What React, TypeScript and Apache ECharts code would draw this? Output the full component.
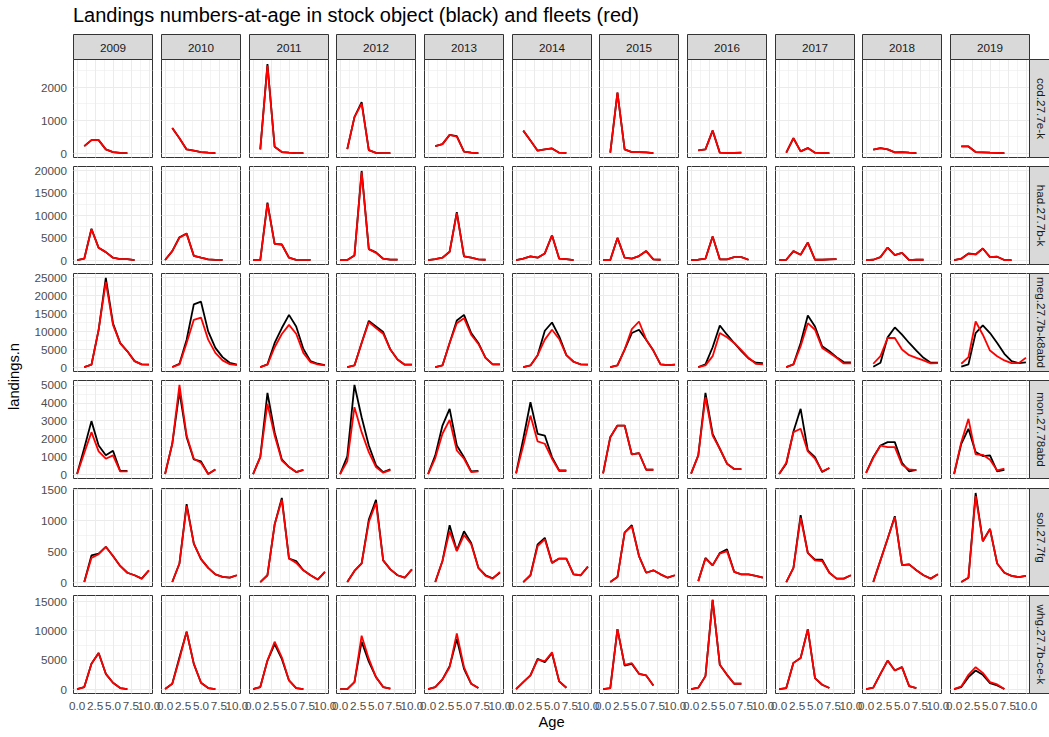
import React, { useEffect, useRef } from "react";
import * as echarts from "echarts";

// ---------------- data ----------------
const years = ["2009", "2010", "2011", "2012", "2013", "2014", "2015", "2016", "2017", "2018", "2019"];
const stockNames = ["cod.27.7e-k", "had.27.7b-k", "meg.27.7b-k8abd", "mon.27.78abd", "sol.27.7fg", "whg.27.7b-ce-k"];
const ages = [0, 1, 2, 3, 4, 5, 6, 7, 8, 9, 10];
const ageTicks = [0, 2.5, 5, 7.5, 10];

const codTicks = [0, 1000, 2000];
const hadTicks = [0, 5000, 10000, 15000, 20000];
const megTicks = [0, 5000, 10000, 15000, 20000, 25000];
const monTicks = [0, 1000, 2000, 3000, 4000, 5000];
const solTicks = [0, 500, 1000, 1500];
const whgTicks = [0, 5000, 10000, 15000];

// landings.n by age (index = age), one row per year 2009..2019
const codStock = [
  [null, 210, 390, 390, 110, 30, 5, 0],
  [null, 760, 450, 110, 70, 30, 10, 0],
  [null, 110, 2700, 190, 30, 10, 0, 0],
  [null, 120, 1090, 1540, 90, 5, 0, 0],
  [null, 210, 270, 550, 510, 40, 10, 0],
  [null, 680, 380, 70, 110, 140, 10, 5],
  [null, 10, 1830, 110, 30, 30, 20, 0],
  [null, 80, 110, 680, 10, 5, 5, 10],
  [null, 10, 450, 50, 150, 10, 5, 0],
  [null, 100, 150, 110, 20, 30, 10, 0],
  [null, 200, 200, 30, 20, 10, 5, 0],
];
const codFleet = [
  [null, 210, 390, 390, 110, 30, 5, 0],
  [null, 760, 450, 110, 70, 30, 10, 0],
  [null, 110, 2650, 190, 30, 10, 0, 0],
  [null, 120, 1090, 1500, 90, 5, 0, 0],
  [null, 210, 270, 550, 500, 40, 10, 0],
  [null, 680, 380, 70, 110, 140, 10, 5],
  [null, 10, 1830, 110, 30, 30, 20, 0],
  [null, 80, 110, 680, 10, 5, 5, 10],
  [null, 10, 450, 50, 150, 10, 5, 0],
  [null, 100, 150, 110, 20, 30, 10, 0],
  [null, 200, 200, 30, 20, 10, 5, 0],
];

const hadStock = [
  [0, 300, 7000, 2730, 1770, 520, 220, 220, 0],
  [0, 2000, 5100, 5900, 950, 520, 150, 60, 50],
  [0, 0, 12840, 3620, 3470, 520, 50, 50, 50],
  [0, 0, 1030, 19900, 2440, 1700, 300, 100, 80],
  [0, 220, 520, 1850, 10700, 810, 520, 150, 70],
  [0, 300, 810, 520, 1480, 5540, 300, 220, 0],
  [0, 0, 4940, 520, 300, 890, 2000, 150, 70],
  [0, 70, 300, 5240, 150, 150, 660, 660, 70],
  [0, 70, 2000, 1180, 3910, 70, 70, 150, 220],
  [0, 70, 660, 2800, 1100, 1620, 0, 70, 70],
  [0, 300, 1480, 1250, 2580, 660, 740, 0, 0],
];
const hadFleet = [
  [0, 300, 6900, 2730, 1770, 520, 220, 220, 0],
  [0, 2000, 5000, 5900, 950, 520, 150, 60, 50],
  [0, 0, 12600, 3620, 3470, 520, 50, 50, 50],
  [0, 0, 1030, 19600, 2440, 1600, 300, 100, 80],
  [0, 220, 520, 1850, 10500, 810, 520, 150, 70],
  [0, 300, 810, 520, 1480, 5540, 300, 220, 0],
  [0, 0, 4940, 520, 300, 890, 2000, 150, 70],
  [0, 70, 300, 5240, 150, 150, 660, 660, 70],
  [0, 70, 2000, 1180, 3910, 70, 70, 150, 220],
  [0, 70, 660, 2800, 1100, 1620, 0, 70, 70],
  [0, 300, 1400, 1250, 2580, 660, 740, 0, 0],
];

const megStock = [
  [null, 0, 650, 10400, 24900, 12200, 6700, 4400, 1660, 740, 650],
  [null, 0, 920, 7660, 17530, 18270, 9960, 5350, 2770, 1200, 650],
  [null, 0, 740, 6730, 10900, 14580, 11350, 5070, 1660, 920, 550],
  [null, 0, 460, 6730, 12900, 11350, 9780, 4890, 2120, 650, 650],
  [null, 0, 460, 6730, 13000, 14580, 9500, 6730, 2580, 740, 740],
  [null, 0, 460, 3320, 10150, 12450, 8580, 3320, 1480, 740, 650],
  [null, 0, 460, 4890, 9500, 10420, 7660, 4610, 740, 550, 650],
  [null, 0, 740, 5540, 11620, 9040, 6730, 4430, 2400, 1200, 1100],
  [null, 0, 740, 6730, 14390, 11350, 5810, 4430, 2770, 1380, 1290],
  [null, 90, 1200, 8300, 11070, 9040, 6730, 4610, 2580, 1200, 1200],
  [null, 90, 740, 9500, 11620, 9500, 6730, 3690, 1660, 1100, 1290],
];
const megFleet = [
  [null, 0, 650, 10400, 23800, 11800, 6700, 4400, 1660, 740, 650],
  [null, 0, 740, 6730, 13190, 13840, 7660, 3970, 1850, 830, 550],
  [null, 0, 650, 5540, 9230, 11800, 9320, 3970, 1380, 740, 460],
  [null, 0, 460, 6730, 12550, 10900, 9320, 4890, 2120, 650, 650],
  [null, 0, 460, 6730, 12270, 13650, 9040, 6460, 2580, 740, 740],
  [null, 0, 460, 3320, 7660, 10420, 7840, 3320, 1480, 740, 650],
  [null, 0, 460, 4890, 10600, 12730, 7660, 4610, 740, 550, 650],
  [null, 0, 460, 3040, 9500, 8300, 6730, 4700, 2580, 920, 740],
  [null, 0, 740, 5810, 12270, 10420, 5350, 3970, 2580, 1010, 1010],
  [null, 920, 3040, 8120, 8120, 4890, 3320, 2580, 1850, 1010, 1100],
  [null, 920, 2770, 12730, 9040, 4610, 3040, 1850, 1100, 1100, 2580],
];

const monStock = [
  [0, 1460, 2970, 1600, 1050, 1310, 170, 170],
  [0, 1700, 4630, 2070, 820, 710, 0, 260],
  [0, 950, 4550, 2350, 820, 390, 110, 240],
  [0, 990, 5000, 3190, 1600, 490, 110, 260],
  [0, 1050, 2720, 3660, 1600, 950, 150, 170],
  [40, 1980, 4030, 2260, 2160, 950, 205, 205],
  [40, 2070, 2720, 2720, 1100, 1180, 240, 240],
  [20, 1050, 4550, 2260, 1420, 580, 280, 280],
  [0, 580, 2390, 3660, 1320, 950, 110, 340],
  [60, 950, 1600, 1790, 1790, 630, 150, 240],
  [0, 1700, 2540, 1230, 1010, 1050, 150, 240],
];
const monFleet = [
  [0, 1190, 2350, 1270, 860, 1050, 150, 150],
  [0, 1700, 5000, 2160, 860, 630, 0, 260],
  [0, 950, 3940, 2160, 760, 390, 110, 240],
  [0, 710, 3750, 2350, 1230, 390, 75, 220],
  [0, 900, 2260, 3040, 1320, 860, 110, 150],
  [40, 1600, 3280, 1830, 1700, 860, 170, 170],
  [40, 2070, 2720, 2720, 1100, 1180, 240, 240],
  [20, 1050, 4310, 2160, 1420, 580, 280, 280],
  [0, 630, 2350, 2540, 1270, 860, 150, 340],
  [60, 900, 1600, 1510, 1510, 520, 260, 220],
  [0, 1790, 3100, 1100, 1080, 800, 205, 300],
];

const solStock = [
  [null, 0, 430, 460, 570, 420, 260, 150, 110, 55, 190],
  [null, 0, 300, 1260, 620, 370, 230, 125, 85, 70, 110],
  [null, 0, 110, 930, 1360, 380, 340, 190, 110, 40, 165],
  [null, 0, 180, 300, 1010, 1330, 350, 205, 110, 70, 205],
  [null, 0, 340, 920, 510, 820, 630, 230, 110, 60, 150],
  [null, 0, 110, 610, 715, 310, 380, 380, 125, 110, 250],
  [null, 0, 80, 800, 920, 420, 150, 190, 125, 70, 110],
  [null, 15, 390, 270, 470, 530, 165, 125, 125, 100, 70],
  [null, 0, 230, 1080, 470, 360, 360, 150, 55, 55, 110],
  [null, 0, 350, 700, 1065, 275, 285, 190, 110, 55, 125],
  [null, 0, 70, 1440, 660, 860, 300, 150, 100, 80, 100],
];
const solFleet = [
  [null, 0, 390, 450, 570, 420, 260, 150, 110, 55, 190],
  [null, 0, 300, 1230, 620, 370, 230, 125, 85, 70, 110],
  [null, 0, 110, 930, 1330, 380, 310, 190, 110, 40, 165],
  [null, 0, 180, 300, 970, 1280, 350, 205, 110, 70, 205],
  [null, 0, 340, 820, 500, 760, 610, 230, 100, 55, 165],
  [null, 0, 110, 580, 690, 310, 380, 380, 125, 110, 250],
  [null, 0, 80, 800, 900, 420, 150, 190, 125, 70, 110],
  [null, 15, 380, 270, 460, 500, 165, 125, 125, 100, 70],
  [null, 0, 230, 1040, 470, 350, 340, 150, 55, 55, 110],
  [null, 0, 350, 700, 1050, 275, 285, 190, 110, 55, 125],
  [null, 0, 70, 1390, 660, 860, 300, 150, 100, 80, 100],
];

const whgStock = [
  [0, 340, 4320, 6190, 2610, 1080, 170, 0],
  [0, 910, 5450, 9830, 4320, 1080, 170, 0],
  [0, 340, 4880, 7720, 5170, 1480, 170, 0],
  [0, 0, 1190, 8120, 4710, 2040, 340, 60],
  [0, 340, 1650, 3920, 8580, 3460, 910, 170],
  [0, 1190, 2330, 5170, 4600, 6130, 1310, 230],
  [0, 170, 10280, 4030, 4320, 2610, 2330, 620],
  [0, 230, 2220, 15280, 4150, 2440, 910, 910],
  [0, 170, 4490, 5340, 10280, 1870, 740, 170],
  [0, 230, 2610, 4880, 3180, 3750, 510, 170],
  [0, 340, 2040, 3180, 2440, 1020, 620, 0],
];
const whgFleet = [
  [0, 340, 4320, 6190, 2610, 1080, 170, 0],
  [0, 910, 5170, 9830, 4320, 1080, 170, 0],
  [0, 340, 4880, 8120, 5450, 1480, 170, 0],
  [0, 0, 1190, 9140, 5170, 2040, 340, 60],
  [0, 340, 1650, 3750, 9540, 3750, 910, 170],
  [0, 1190, 2330, 5060, 4770, 6300, 1310, 230],
  [0, 170, 10280, 4150, 4430, 2610, 2330, 620],
  [0, 230, 2220, 15280, 4150, 2440, 910, 910],
  [0, 170, 4490, 5340, 10280, 1870, 740, 170],
  [0, 230, 2610, 4880, 3180, 3750, 510, 170],
  [0, 450, 2440, 3750, 2780, 1190, 800, 0],
];

const stockRows = [codStock, hadStock, megStock, monStock, solStock, whgStock];
const fleetRows = [codFleet, hadFleet, megFleet, monFleet, solFleet, whgFleet];
const rowTicks = [codTicks, hadTicks, megTicks, monTicks, solTicks, whgTicks];

// ---------------- layout ----------------
const PANEL_X0 = 73.3;
const PANEL_W = 79;
const PITCH_X = 87.65;
const PANEL_Y0 = 59;
const PANEL_H = 98;
const PITCH_Y = 107.15;
const STRIP_TOP_H = 25;
const STRIP_RIGHT_W = 24;
const FONT = '"Liberation Sans", Arial, Helvetica, sans-serif';
const GRID_COL = "#EBEBEB";
const BORDER = "#333333";

const colLeft = (c: number) => Math.round(PANEL_X0 + c * PITCH_X) + 0.5;
const rowTop = (r: number) => Math.round(PANEL_Y0 + r * PITCH_Y) + 0.5;

function toPairs(vals: (number | null)[]) {
  const out: [number, number][] = [];
  vals.forEach((v, i) => {
    if (v !== null && v !== undefined) out.push([ages[i], v]);
  });
  return out;
}

function rowRange(r: number): [number, number] {
  let lo = Infinity;
  let hi = -Infinity;
  [stockRows[r], fleetRows[r]].forEach((tbl) =>
    tbl.forEach((row) =>
      row.forEach((v) => {
        if (v !== null && v !== undefined) {
          lo = Math.min(lo, v);
          hi = Math.max(hi, v);
        }
      })
    )
  );
  const span = hi - lo;
  return [lo - 0.05 * span, hi + 0.05 * span];
}

function minorsOf(ticks: number[], lo: number, hi: number) {
  const step = ticks[1] - ticks[0];
  const out: number[] = [];
  const first = ticks[0] - step / 2;
  if (first >= lo) out.push(first);
  for (let i = 0; i < ticks.length - 1; i++) out.push((ticks[i] + ticks[i + 1]) / 2);
  const last = ticks[ticks.length - 1] + step / 2;
  if (last <= hi) out.push(last);
  return out;
}

function buildOption() {
  const xLo = ages[0] - 0.05 * (ages[ages.length - 1] - ages[0]);
  const xHi = ages[ages.length - 1] + 0.05 * (ages[ages.length - 1] - ages[0]);
  const xMinors = minorsOf(ageTicks, xLo, xHi);
  // ECharts hides the label next to the last one when they overlap and showMaxLabel is true;
  // a hair-width duplicate of the last tick lets every reference label (overlapping as in the
  // reference) stay visible.
  const lastAge = ageTicks[ageTicks.length - 1];
  const xLabelValues = [...ageTicks, lastAge + 1e-6];

  const grids: any[] = [];
  const xAxes: any[] = [];
  const yAxes: any[] = [];
  const series: any[] = [];
  const graphics: any[] = [];

  const nRows = stockNames.length;
  const nCols = years.length;

  const labelCommon = {
    margin: 6.4,
    fontSize: 11.7,
    color: "#4D4D4D",
    fontFamily: FONT,
    hideOverlap: false,
    showMinLabel: true,
    showMaxLabel: true,
  };

  for (let r = 0; r < nRows; r++) {
    const [yLo, yHi] = rowRange(r);
    const ticks = rowTicks[r];
    const yMinors = minorsOf(ticks, yLo, yHi);
    for (let c = 0; c < nCols; c++) {
      const idx = r * nCols + c;
      grids.push({
        left: colLeft(c),
        top: rowTop(r),
        width: PANEL_W,
        height: PANEL_H,
        show: true,
        backgroundColor: "#FFFFFF",
        borderColor: BORDER,
        borderWidth: 1,
        containLabel: false,
      });
      const isBottom = r === nRows - 1;
      const isLeft = c === 0;
      xAxes.push({
        type: "value",
        gridIndex: idx,
        min: xLo,
        max: xHi,
        axisLine: { show: false },
        splitLine: { show: false },
        axisTick: {
          show: isBottom,
          customValues: xLabelValues,
          length: 3.7,
          lineStyle: { color: BORDER, width: 1.07 },
        },
        axisLabel: {
          ...labelCommon,
          show: isBottom,
          customValues: xLabelValues,
          formatter: (v: number) => v.toFixed(1),
        },
      });
      yAxes.push({
        type: "value",
        gridIndex: idx,
        min: yLo,
        max: yHi,
        axisLine: { show: false },
        splitLine: { show: false },
        axisTick: {
          show: isLeft,
          customValues: ticks,
          length: 3.7,
          lineStyle: { color: BORDER, width: 1.07 },
        },
        axisLabel: {
          ...labelCommon,
          show: isLeft,
          customValues: ticks,
          formatter: (v: number) => String(Math.round(v)),
        },
      });

      const gridLines: any[] = [];
      const minorStyle = { type: "solid", width: 0.55, color: GRID_COL };
      const majorStyle = { type: "solid", width: 1.07, color: GRID_COL };
      xMinors.forEach((v) => gridLines.push({ xAxis: v, lineStyle: minorStyle }));
      yMinors.forEach((v) => gridLines.push({ yAxis: v, lineStyle: minorStyle }));
      ageTicks.forEach((v) => gridLines.push({ xAxis: v, lineStyle: majorStyle }));
      ticks.forEach((v) => gridLines.push({ yAxis: v, lineStyle: majorStyle }));

      series.push({
        type: "line",
        xAxisIndex: idx,
        yAxisIndex: idx,
        data: toPairs(stockRows[r][c]),
        symbol: "none",
        silent: true,
        z: 3,
        lineStyle: { color: "#000000", width: 1.8 },
        emphasis: { disabled: true },
        markLine: {
          silent: true,
          symbol: ["none", "none"],
          label: { show: false },
          z: 1,
          animation: false,
          emphasis: { disabled: true },
          lineStyle: { type: "solid", color: GRID_COL },
          data: gridLines,
        },
      });
      series.push({
        type: "line",
        xAxisIndex: idx,
        yAxisIndex: idx,
        data: toPairs(fleetRows[r][c]),
        symbol: "none",
        silent: true,
        z: 4,
        lineStyle: { color: "#FF0000", width: 1.8 },
        emphasis: { disabled: true },
      });
    }
  }

  // top strips
  const stripTop = rowTop(0) - STRIP_TOP_H;
  for (let c = 0; c < nCols; c++) {
    const left = colLeft(c);
    graphics.push({
      type: "rect",
      shape: { x: left, y: stripTop, width: PANEL_W, height: STRIP_TOP_H },
      style: { fill: "#D9D9D9", stroke: BORDER, lineWidth: 1 },
      z: 10,
    });
    graphics.push({
      type: "text",
      x: left + PANEL_W / 2,
      y: stripTop + STRIP_TOP_H / 2,
      style: {
        text: years[c],
        align: "center",
        verticalAlign: "middle",
        fill: "#1A1A1A",
        fontSize: 11.7,
        fontFamily: FONT,
      },
      z: 11,
    });
  }
  // right strips
  const stripX = colLeft(nCols - 1) + PANEL_W;
  for (let r = 0; r < nRows; r++) {
    const top = rowTop(r);
    graphics.push({
      type: "rect",
      shape: { x: stripX, y: top, width: STRIP_RIGHT_W, height: PANEL_H },
      style: { fill: "#D9D9D9", stroke: BORDER, lineWidth: 1 },
      z: 10,
    });
    graphics.push({
      type: "text",
      x: stripX + STRIP_RIGHT_W / 2,
      y: top + PANEL_H / 2,
      rotation: -Math.PI / 2,
      style: {
        text: stockNames[r],
        align: "center",
        verticalAlign: "middle",
        fill: "#1A1A1A",
        fontSize: 11.7,
        fontFamily: FONT,
      },
      z: 11,
    });
  }
  const gridsBottom = rowTop(nRows - 1) + PANEL_H;
  const gridsMidX = (colLeft(0) + stripX) / 2;
  const gridsMidY = (rowTop(0) + gridsBottom) / 2;
  graphics.push({
    type: "text",
    x: gridsMidX,
    y: 722,
    style: {
      text: "Age",
      align: "center",
      verticalAlign: "middle",
      fill: "#000000",
      fontSize: 14.7,
      fontFamily: FONT,
    },
  });
  graphics.push({
    type: "text",
    x: 14,
    y: gridsMidY,
    rotation: Math.PI / 2,
    style: {
      text: "landings.n",
      align: "center",
      verticalAlign: "middle",
      fill: "#000000",
      fontSize: 14.7,
      fontFamily: FONT,
    },
  });
  graphics.push({
    type: "text",
    x: colLeft(0) - 0.5,
    y: 15,
    style: {
      text: "Landings numbers-at-age in stock object (black) and fleets (red)",
      align: "left",
      verticalAlign: "middle",
      fill: "#000000",
      fontSize: 20,
      fontFamily: FONT,
    },
  });

  return {
    animation: false,
    backgroundColor: "#FFFFFF",
    grid: grids,
    xAxis: xAxes,
    yAxis: yAxes,
    series,
    graphic: { elements: graphics },
  };
}

export default function App() {
  const ref = useRef<HTMLDivElement>(null);
  useEffect(() => {
    if (!ref.current) return;
    const chart = echarts.init(ref.current, undefined, { renderer: "svg" });
    chart.setOption(buildOption() as any);
    return () => chart.dispose();
  }, []);
  return (
    <div
      ref={ref}
      style={{ position: "fixed", left: 0, top: 0, width: 1049, height: 737, background: "#fff" }}
    />
  );
}
